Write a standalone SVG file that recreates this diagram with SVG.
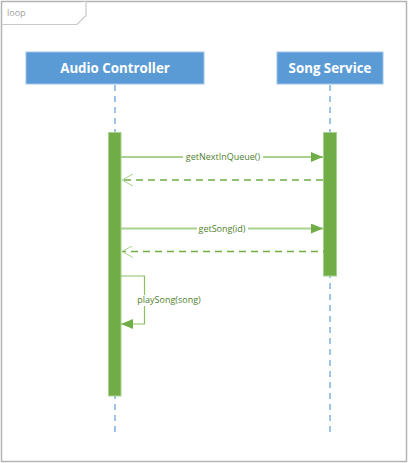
<svg xmlns="http://www.w3.org/2000/svg" width="409" height="463" viewBox="0 0 409 463">
<defs>
<style>
.frame{fill:#fff;stroke:#b4b4b4;stroke-width:1.5}
.tab{fill:#fff;stroke:#c8c8c8;stroke-width:1.2}
.head{fill:#5b9bd5;stroke:#9dc3e6;stroke-width:1}
.htxt{font-family:"Open Sans","Noto Sans",sans-serif;font-weight:bold;font-size:13.3px;fill:#fff;text-anchor:middle}
.life{stroke:#9dc3e6;stroke-width:2;stroke-dasharray:6,5;fill:none}
.act{fill:#70ad47;stroke:#a9d08e;stroke-width:1}
.msg{stroke:#a9d08e;stroke-width:2;fill:none}
.ret{stroke:#70ad47;stroke-width:1.5;stroke-dasharray:7,5;fill:none}
.self{stroke:#8cc063;stroke-width:1.2;fill:none}
.lbl{font-family:"Open Sans","Noto Sans",sans-serif;font-size:9px;fill:#4f7f2e;text-anchor:middle}
.loop{font-family:"Open Sans","Noto Sans",sans-serif;font-size:9px;fill:#a0a0a0}
</style>
<marker id="fill" markerWidth="12" markerHeight="10" refX="12" refY="5" orient="auto" markerUnits="userSpaceOnUse">
<path d="M0,0 L12,5 L0,10 Z" fill="#70ad47"/>
</marker>
<marker id="open" markerWidth="12" markerHeight="12" refX="11" refY="6" orient="auto" markerUnits="userSpaceOnUse">
<path d="M0,0 L11,6 L0,12" fill="none" stroke="#a9d08e" stroke-width="1"/>
</marker>
</defs>
<g id="frame">
<rect class="frame" x="1.5" y="1.5" width="405" height="460"/>
<path class="tab" d="M1.5,24.5 H77 L86,15.5 V1.5"/>
<text class="loop" x="7" y="16">loop</text>
</g>
<g id="audio-controller">
<rect class="head" x="26" y="52" width="178" height="32"/>
<text class="htxt" x="115" y="73">Audio Controller</text>
<line class="life" x1="115" y1="85" x2="115" y2="434"/>
<rect class="act" x="108.5" y="132.5" width="12.5" height="263.5"/>
</g>
<g id="song-service">
<rect class="head" x="277" y="52" width="106" height="32"/>
<text class="htxt" x="330" y="73">Song Service</text>
<line class="life" x1="330" y1="85" x2="330" y2="434"/>
<rect class="act" x="323.5" y="132.5" width="13" height="143.5"/>
</g>
<g id="connectors">
<line class="msg" x1="121" y1="157" x2="323" y2="157" marker-end="url(#fill)"/>
<line class="ret" x1="323" y1="180" x2="122" y2="180" marker-end="url(#open)"/>
<line class="msg" x1="121" y1="228.5" x2="323" y2="228.5" marker-end="url(#fill)"/>
<line class="ret" x1="330" y1="251.5" x2="122" y2="251.5" marker-end="url(#open)"/>
<path class="self" d="M121,276 H144.5 V324 H121" marker-end="url(#fill)"/>
<rect x="183" y="151" width="80" height="11" fill="#fff"/>
<text class="lbl" x="223" y="160">getNextInQueue()</text>
<rect x="197" y="222.5" width="51" height="11" fill="#fff"/>
<text class="lbl" x="222" y="231.5">getSong(id)</text>
<rect x="136" y="295" width="66" height="11" fill="#fff"/>
<text class="lbl" x="169" y="303">playSong(song)</text>
</g>
</svg>
